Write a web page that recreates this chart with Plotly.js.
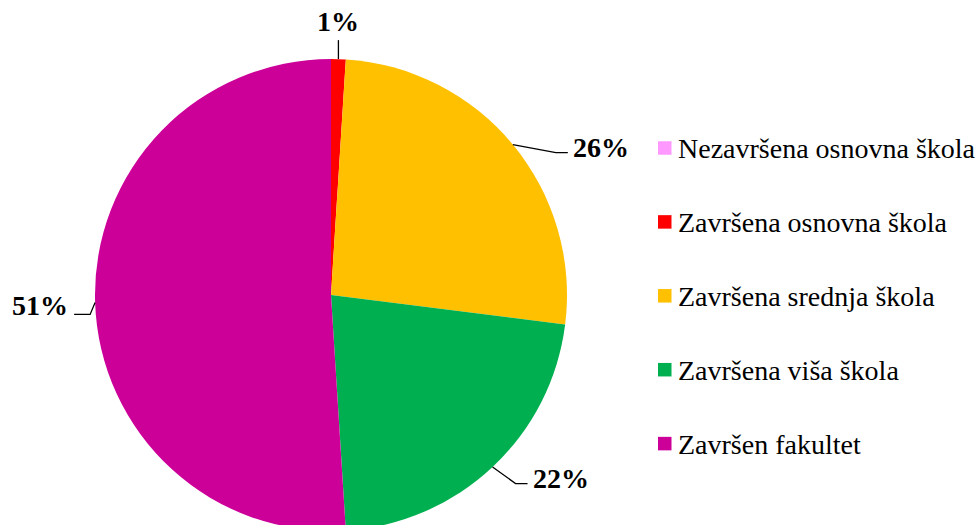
<!DOCTYPE html>
<html>
<head>
<meta charset="utf-8">
<script src="https://cdn.plot.ly/plotly-3.0.1.min.js"></script>
<style>
html,body{margin:0;padding:0;overflow:hidden;background:#fff;}
#chart{width:979px;height:532px;}
</style>
</head>
<body>
<div id="chart"></div>
<script>
// ---- data ----
const categories = ["Nezavršena osnovna škola", "Završena osnovna škola", "Završena srednja škola", "Završena viša škola", "Završen fakultet"];
const values = [0, 1, 26, 22, 51];
const colors = ["#FF99FF", "#FF0000", "#FFC000", "#00B050", "#CC0099"];

// ---- layout constants (style) ----
const W = 979, H = 532;
const M = {l: 0, r: 0, t: 59, b: 1};
const plotW = W - M.l - M.r, plotH = H - M.t - M.b;
const R = plotH / 2;
const CX = 331, CY = M.t + R;
const FONT = "Liberation Serif";
// leader elbow offsets from arc point [dx, dy, horizontal length], per slice
const leader = [null, [0, -19, 0], [43, 8, 12], [23, 16.5, 12], [-5, 12, 16]];

function px(x) { return (x - M.l) / plotW; }
function py(y) { return 1 - (y - M.t) / plotH; }

const total = values.reduce((a, b) => a + b, 0);
const shapes = [], annotations = [];
let cum = 0;
values.forEach((v, i) => {
  const mid = (cum + v / 2) / total * 2 * Math.PI;
  cum += v;
  if (v <= 0 || !leader[i]) return;
  const ax = CX + R * Math.sin(mid), ay = CY - R * Math.cos(mid);
  const [dx, dy, hl] = leader[i];
  const ex = ax + dx, ey = ay + dy;
  const right = dx >= 0;
  const hx = hl === 0 ? ex : (right ? ex + hl : ex - hl);
  shapes.push({type: "path", xref: "paper", yref: "paper",
    path: `M ${px(ax)} ${py(ay)} L ${px(ex)} ${py(ey)} L ${px(hx)} ${py(ey)}`,
    line: {color: "#000", width: 1.3}});
  const pct = Math.round(v / total * 100) + "%";
  if (hl === 0) {
    annotations.push({xref: "paper", yref: "paper", x: px(ex), y: py(ey - 1), xanchor: "center", yanchor: "bottom",
      text: "<b>" + pct + "</b>", showarrow: false, font: {family: FONT, size: 28, color: "#000"}});
  } else {
    annotations.push({xref: "paper", yref: "paper", x: px(right ? hx + 3 : hx - 4), y: py(ey - (right ? 5 : 9)), xanchor: right ? "left" : "right", yanchor: "middle",
      text: "<b>" + pct + "</b>", showarrow: false, font: {family: FONT, size: 28, color: "#000"}});
  }
});

// custom legend
const legX = 658, legSize = 13.5, legY0 = 148, legStep = 73.9;
categories.forEach((c, i) => {
  const yc = legY0 + i * legStep;
  shapes.push({type: "rect", xref: "paper", yref: "paper",
    x0: px(legX), x1: px(legX + legSize), y0: py(yc - legSize / 2), y1: py(yc + legSize / 2),
    fillcolor: colors[i], line: {width: 0}});
  annotations.push({xref: "paper", yref: "paper", x: px(legX + 18), y: py(yc + 1), xanchor: "left", yanchor: "middle",
    text: c, showarrow: false, font: {family: FONT, size: 28, color: "#000"}});
});

const trace = {
  type: "pie",
  labels: categories,
  values: values,
  marker: {colors: colors, line: {width: 0}},
  sort: false,
  direction: "clockwise",
  rotation: 0,
  textinfo: "none",
  hoverinfo: "label+percent",
  domain: {x: [px(CX - R), px(CX + R)], y: [0, 1]}
};

const layout = {
  width: W, height: H,
  margin: M,
  showlegend: false,
  paper_bgcolor: "#fff",
  plot_bgcolor: "#fff",
  shapes: shapes,
  annotations: annotations
};

Plotly.newPlot("chart", [trace], layout, {displayModeBar: false, staticPlot: true});
</script>
</body>
</html>
